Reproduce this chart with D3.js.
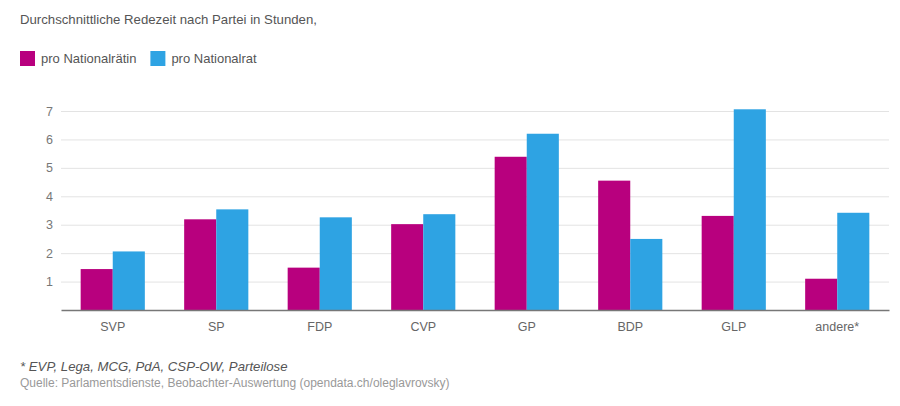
<!DOCTYPE html>
<html><head><meta charset="utf-8">
<script src="https://cdn.jsdelivr.net/npm/d3@7"></script>
<style>
body{margin:0;background:#fff;}
text{font-family:"Liberation Sans",Arial,sans-serif;}
</style></head>
<body><svg id="c" width="900" height="406"></svg>
<script>
const categories = ["SVP","SP","FDP","CVP","GP","BDP","GLP","andere*"];
const seriesNames = ["pro Nationalrätin","pro Nationalrat"];
const womenValues = [1.44,3.19,1.49,3.02,5.39,4.55,3.31,1.10];
const menValues = [2.06,3.54,3.26,3.37,6.20,2.50,7.06,3.42];
const yTicks = [1,2,3,4,5,6,7];
const colors = ["#B8007E","#2EA3E3"];

const svg = d3.select("#c");
const W = 900, H = 406;
const m = {left:61, right:11, top:111, bottom:96};
const x = d3.scaleBand().domain(categories).range([m.left, W-m.right]).paddingInner(0.38).paddingOuter(0.19);
const x1 = d3.scaleBand().domain([0,1]).range([0, x.bandwidth()]);
const y = d3.scaleLinear().domain([0,7]).range([H-m.bottom, m.top]);

svg.append("text").attr("x",20).attr("y",24).attr("font-size",13.2).attr("fill","#555")
  .text("Durchschnittliche Redezeit nach Partei in Stunden,");

// legend
const lg = svg.append("g");
let lx = 20;
seriesNames.forEach((n,i)=>{
  lg.append("rect").attr("x",lx).attr("y",51).attr("width",15).attr("height",15).attr("fill",colors[i]);
  const t = lg.append("text").attr("x",lx+21).attr("y",63).attr("font-size",13).attr("fill","#555").text(n);
  lx += 21 + t.node().getComputedTextLength() + 14;
});

// grid
const ya = d3.axisLeft(y).tickValues(yTicks).tickSize(-(W-m.left-m.right)).tickFormat(d3.format("d"));
const gy = svg.append("g").attr("transform",`translate(${m.left},0)`).call(ya);
gy.select(".domain").remove();
gy.selectAll(".tick line").attr("stroke","#e3e3e3");
gy.selectAll(".tick text").attr("x",-8).attr("font-size",12.5).attr("fill","#777");

// bars
const g = svg.append("g");
categories.forEach((c,i)=>{
  [womenValues[i],menValues[i]].forEach((v,j)=>{
    g.append("rect").attr("x",x(c)+x1(j)).attr("width",x1.bandwidth())
     .attr("y",y(v)).attr("height",y(0)-y(v)).attr("fill",colors[j]);
  });
});

// x axis
const xa = d3.axisBottom(x).tickSize(0).tickPadding(12);
const gx = svg.append("g").attr("transform",`translate(0,${y(0)})`).call(xa);
gx.select(".domain").attr("stroke","#777").attr("stroke-width",1.3);
gx.selectAll(".tick text").attr("font-size",12.5).attr("fill","#666");

svg.append("text").attr("x",20).attr("y",371).attr("font-size",13.2).attr("fill","#555")
  .attr("font-style","italic").text("* EVP, Lega, MCG, PdA, CSP-OW, Parteilose");
svg.append("text").attr("x",20).attr("y",387).attr("font-size",12).attr("fill","#999")
  .text("Quelle: Parlamentsdienste, Beobachter-Auswertung (opendata.ch/oleglavrovsky)");
</script></body></html>
